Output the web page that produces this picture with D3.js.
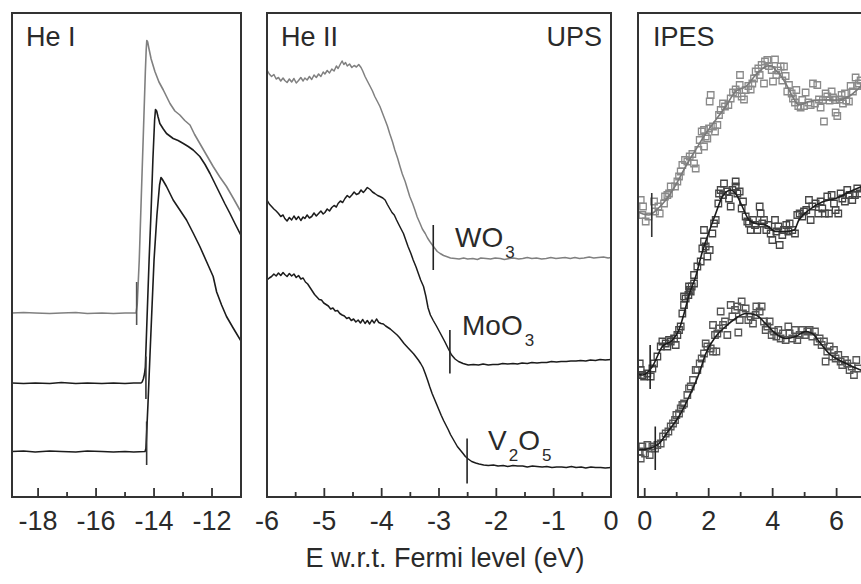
<!DOCTYPE html>
<html><head><meta charset="utf-8">
<script src="https://cdn.jsdelivr.net/npm/d3@7"></script>
<style>
body{margin:0;background:#fff}
svg{display:block}
text{font-family:"Liberation Sans",Arial,Helvetica,sans-serif;fill:#2a2a2a}
</style>
</head><body>
<svg id="chart" width="861" height="584"></svg>
<script>
// ---------------- DATA ----------------
// He I (secondary electron cut-off), x = E (eV), y = intensity (a.u.)
const heI_WO3 = [[-18.9,36.8],[-18.5,36.9],[-18.1,36.8],[-17.6,36.7],[-17.2,36.8],[-16.7,36.9],[-16.3,36.7],[-15.8,36.8],[-15.4,36.7],[-15.0,36.8],[-14.62,36.8],[-14.58,38.5],[-14.51,47.4],[-14.44,60.0],[-14.37,72.4],[-14.30,85.0],[-14.27,89.5],[-14.25,91.3],[-14.22,91.0],[-14.18,89.8],[-14.10,87.6],[-13.97,85.1],[-13.83,83.0],[-13.68,81.4],[-13.45,78.7],[-13.28,77.2],[-13.11,76.4],[-12.94,75.3],[-12.76,74.4],[-12.60,72.5],[-12.42,70.7],[-12.19,68.4],[-11.96,66.1],[-11.73,64.0],[-11.50,62.1],[-11.27,59.8],[-11.0,57.0]];
const heI_MoO3 = [[-18.9,22.8],[-18.5,22.7],[-18.1,22.8],[-17.6,22.7],[-17.2,22.9],[-16.7,22.7],[-16.3,22.8],[-15.8,22.7],[-15.4,22.8],[-15.0,22.7],[-14.7,22.8],[-14.45,22.8],[-14.41,23.0],[-14.37,23.6],[-14.33,24.6],[-14.30,26.0],[-14.24,36.0],[-14.17,47.4],[-14.10,57.5],[-14.04,67.4],[-13.98,75.4],[-13.95,77.5],[-13.91,77.2],[-13.86,76.0],[-13.80,74.7],[-13.68,73.6],[-13.57,72.7],[-13.34,71.7],[-13.17,71.3],[-12.99,70.7],[-12.82,70.1],[-12.65,69.4],[-12.42,68.1],[-12.24,66.5],[-12.07,64.7],[-11.90,62.7],[-11.73,60.7],[-11.56,58.7],[-11.38,56.7],[-11.21,54.7],[-11.0,52.3]];
const heI_V2O5 = [[-18.9,9.1],[-18.5,9.2],[-18.1,9.0],[-17.6,9.2],[-17.2,9.1],[-16.7,9.0],[-16.3,9.2],[-15.8,9.1],[-15.4,9.0],[-15.0,9.1],[-14.7,9.0],[-14.31,9.1],[-14.28,9.7],[-14.21,18.5],[-14.14,28.4],[-14.07,38.0],[-14.00,47.4],[-13.90,56.4],[-13.81,62.4],[-13.76,63.9],[-13.72,63.6],[-13.66,63.0],[-13.57,62.1],[-13.34,59.4],[-13.11,57.4],[-12.88,55.4],[-12.65,52.8],[-12.42,50.1],[-12.19,47.1],[-11.96,44.1],[-11.84,41.0],[-11.67,38.4],[-11.50,36.1],[-11.27,33.8],[-11.0,31.2]];

// He II (valence band)
const ups_WO3 = [[-6.00,85.4],[-5.96,84.6],[-5.92,84.1],[-5.88,84.5],[-5.84,83.6],[-5.80,83.9],[-5.76,83.2],[-5.72,83.8],[-5.69,83.3],[-5.65,82.9],[-5.61,83.6],[-5.57,83.0],[-5.53,83.7],[-5.49,82.8],[-5.45,83.3],[-5.41,83.9],[-5.37,83.2],[-5.34,83.8],[-5.30,83.4],[-5.26,84.1],[-5.22,83.5],[-5.18,84.4],[-5.14,83.9],[-5.10,84.6],[-5.06,84.1],[-5.02,85.0],[-4.99,84.6],[-4.95,85.3],[-4.91,84.8],[-4.87,85.6],[-4.83,85.2],[-4.79,86.2],[-4.76,85.7],[-4.72,86.6],[-4.69,87.2],[-4.66,86.5],[-4.63,86.9],[-4.60,86.2],[-4.56,86.6],[-4.52,85.9],[-4.48,86.3],[-4.44,86.0],[-4.40,86.5],[-4.36,85.9],[-4.33,85.2],[-4.29,84.1],[-4.25,83.2],[-4.20,82.1],[-4.16,81.2],[-4.12,80.1],[-4.07,79.0],[-4.03,78.1],[-3.98,76.6],[-3.94,75.4],[-3.90,74.2],[-3.86,72.7],[-3.81,71.0],[-3.77,69.4],[-3.72,67.7],[-3.68,66.1],[-3.64,64.6],[-3.59,63.1],[-3.55,61.6],[-3.51,60.1],[-3.46,58.7],[-3.42,57.4],[-3.38,56.0],[-3.33,54.7],[-3.29,53.6],[-3.24,52.7],[-3.20,51.8],[-3.16,51.1],[-3.11,50.3],[-3.07,49.7],[-3.03,49.1],[-2.98,48.7],[-2.92,48.3],[-2.87,48.1],[-2.80,47.8],[-2.72,47.7],[-2.65,47.6],[-2.57,47.8],[-2.50,47.6],[-2.41,47.7],[-2.33,47.5],[-2.27,47.8],[-2.18,47.7],[-2.10,47.6],[-2.02,47.8],[-1.93,47.7],[-1.86,47.5],[-1.77,47.7],[-1.70,47.8],[-1.61,47.6],[-1.54,47.7],[-1.46,47.9],[-1.38,47.7],[-1.30,47.8],[-1.21,47.6],[-1.13,47.7],[-1.05,47.9],[-0.96,47.7],[-0.88,47.8],[-0.80,47.9],[-0.71,47.7],[-0.63,47.9],[-0.55,47.7],[-0.47,47.8],[-0.38,48.0],[-0.30,47.8],[-0.22,47.9],[-0.13,48.0],[-0.05,47.8],[0,47.9]];
const ups_MoO3 = [[-6.00,59.4],[-5.96,58.6],[-5.92,58.1],[-5.88,57.6],[-5.84,57.2],[-5.80,56.7],[-5.76,56.1],[-5.72,56.4],[-5.69,55.7],[-5.65,55.2],[-5.61,55.9],[-5.57,55.4],[-5.53,56.2],[-5.49,55.5],[-5.45,56.1],[-5.41,55.3],[-5.37,56.0],[-5.34,55.7],[-5.30,56.4],[-5.26,55.8],[-5.22,56.1],[-5.18,56.8],[-5.14,56.2],[-5.10,56.7],[-5.06,57.2],[-5.02,56.6],[-4.99,56.9],[-4.95,57.6],[-4.91,57.2],[-4.87,57.9],[-4.83,58.3],[-4.79,58.0],[-4.76,58.7],[-4.72,59.2],[-4.68,58.9],[-4.64,59.7],[-4.60,60.3],[-4.56,59.9],[-4.52,60.4],[-4.48,61.0],[-4.44,60.5],[-4.40,60.7],[-4.36,61.4],[-4.32,60.9],[-4.29,61.3],[-4.25,61.9],[-4.20,61.5],[-4.16,61.0],[-4.12,60.7],[-4.07,60.3],[-4.03,60.1],[-3.98,59.8],[-3.94,59.4],[-3.90,58.5],[-3.86,57.7],[-3.82,56.9],[-3.78,56.4],[-3.74,55.4],[-3.71,54.7],[-3.67,53.8],[-3.62,52.7],[-3.58,51.4],[-3.54,50.1],[-3.49,48.7],[-3.45,47.4],[-3.40,46.0],[-3.36,44.7],[-3.32,43.4],[-3.27,42.1],[-3.23,40.2],[-3.19,37.8],[-3.15,36.4],[-3.10,35.3],[-3.04,34.1],[-2.97,32.6],[-2.90,31.1],[-2.84,29.7],[-2.78,28.4],[-2.72,27.6],[-2.66,27.1],[-2.58,26.7],[-2.49,26.4],[-2.40,26.5],[-2.31,26.4],[-2.23,26.6],[-2.14,26.4],[-2.06,26.5],[-1.97,26.5],[-1.89,26.7],[-1.80,26.6],[-1.71,26.7],[-1.63,26.6],[-1.55,26.8],[-1.46,26.7],[-1.38,26.9],[-1.29,26.8],[-1.21,26.9],[-1.12,26.9],[-1.04,27.1],[-0.95,27.0],[-0.87,27.1],[-0.78,27.1],[-0.70,27.2],[-0.61,27.2],[-0.53,27.3],[-0.44,27.2],[-0.36,27.4],[-0.27,27.3],[-0.19,27.5],[-0.10,27.4],[0,27.5]];
const ups_V2O5 = [[-6.00,43.4],[-5.96,43.8],[-5.92,44.1],[-5.88,44.6],[-5.84,44.2],[-5.80,44.8],[-5.76,44.3],[-5.72,44.9],[-5.69,44.5],[-5.65,44.1],[-5.61,44.7],[-5.57,44.2],[-5.53,44.6],[-5.49,43.9],[-5.45,44.3],[-5.41,43.6],[-5.37,43.8],[-5.33,43.0],[-5.29,42.6],[-5.25,41.9],[-5.21,41.2],[-5.17,40.5],[-5.13,40.0],[-5.09,39.5],[-5.05,39.4],[-5.01,38.8],[-4.97,38.5],[-4.93,38.2],[-4.89,37.6],[-4.85,37.8],[-4.81,37.2],[-4.77,37.3],[-4.73,36.7],[-4.69,36.4],[-4.65,36.2],[-4.61,35.7],[-4.57,35.9],[-4.53,35.3],[-4.49,35.6],[-4.45,35.0],[-4.41,35.4],[-4.37,34.8],[-4.33,35.5],[-4.29,34.7],[-4.25,35.3],[-4.21,34.6],[-4.17,35.4],[-4.13,34.8],[-4.09,35.6],[-4.05,34.9],[-4.01,34.7],[-3.97,34.6],[-3.93,34.2],[-3.89,33.9],[-3.85,33.6],[-3.81,33.2],[-3.77,32.8],[-3.73,32.4],[-3.69,31.9],[-3.65,31.3],[-3.61,30.7],[-3.57,30.2],[-3.53,29.7],[-3.48,29.1],[-3.44,28.6],[-3.40,28.0],[-3.36,27.4],[-3.32,26.7],[-3.28,25.9],[-3.24,24.7],[-3.20,23.4],[-3.16,22.0],[-3.12,20.7],[-3.08,19.6],[-3.04,18.5],[-3.00,17.4],[-2.96,16.3],[-2.92,15.3],[-2.88,14.4],[-2.84,13.5],[-2.80,12.5],[-2.76,11.7],[-2.72,10.9],[-2.68,10.1],[-2.63,9.4],[-2.58,8.7],[-2.54,8.1],[-2.49,7.6],[-2.43,7.1],[-2.36,6.8],[-2.30,6.6],[-2.22,6.4],[-2.14,6.3],[-2.05,6.4],[-1.97,6.2],[-1.88,6.3],[-1.80,6.1],[-1.71,6.3],[-1.63,6.2],[-1.54,6.2],[-1.46,6.0],[-1.37,6.2],[-1.29,6.1],[-1.20,6.0],[-1.12,6.1],[-1.03,5.9],[-0.95,6.0],[-0.86,6.0],[-0.78,5.9],[-0.69,6.1],[-0.61,5.9],[-0.52,6.0],[-0.44,5.8],[-0.35,6.0],[-0.27,5.9],[-0.18,5.9],[-0.10,5.8],[0,5.9]];

// IPES measured points
const ipes_WO3_pts = [[-0.125,59.4],[-0.052,58.1],[-0.073,56.4],[0.031,55.1],[0.115,56.1],[0.292,59.1],[0.323,57.1],[0.427,58.1],[0.469,56.7],[0.604,58.7],[0.635,60.1],[0.708,60.4],[0.760,60.7],[0.813,62.1],[0.948,62.1],[1.021,63.1],[1.073,64.1],[1.125,65.1],[1.177,66.4],[1.260,67.4],[1.333,67.1],[1.406,68.1],[1.490,68.6],[1.542,66.7],[1.594,65.7],[1.677,69.4],[1.719,71.4],[1.781,73.1],[1.854,73.4],[1.906,72.1],[1.958,71.7],[1.854,70.1],[2.010,73.7],[2.135,74.1],[2.198,73.1],[2.271,74.4],[2.323,76.4],[2.375,77.4],[2.448,78.7],[2.510,78.1],[2.615,78.4],[2.688,79.7],[2.760,80.9],[2.844,81.5],[2.896,80.7],[2.969,82.4],[3.031,80.1],[3.104,79.5],[3.156,81.4],[3.240,82.2],[3.313,81.5],[3.365,82.7],[3.417,83.7],[3.469,85.1],[3.552,85.7],[3.594,84.4],[3.656,86.4],[3.729,82.7],[3.760,87.1],[3.833,87.4],[3.885,86.2],[3.969,85.4],[4.010,83.1],[4.073,87.5],[4.115,84.4],[4.177,85.3],[4.250,86.1],[4.302,83.3],[4.354,86.1],[4.406,84.2],[4.458,81.1],[4.510,82.4],[4.594,80.7],[4.635,79.7],[4.698,78.9],[4.740,81.4],[4.802,78.2],[4.875,77.9],[4.927,79.4],[4.979,78.2],[5.031,80.9],[5.115,78.9],[5.188,78.4],[5.260,82.7],[5.323,78.7],[5.396,82.4],[5.448,79.5],[5.500,77.9],[5.573,79.4],[5.604,75.1],[5.656,80.7],[5.708,80.1],[5.781,79.3],[5.844,81.1],[5.885,79.9],[5.948,79.4],[5.969,76.9],[6.021,76.2],[6.094,79.5],[6.156,80.4],[6.198,78.7],[6.260,80.7],[6.302,79.3],[6.385,79.1],[6.438,82.2],[6.510,81.1],[6.594,83.9],[6.646,82.2],[6.698,82.7],[6.750,83.3],[2.063,80.4],[2.031,79.1],[2.979,84.4]];
const ipes_MoO3_pts = [[-0.156,26.7],[-0.125,25.4],[-0.073,24.4],[-0.021,24.1],[0.083,24.7],[0.188,24.1],[0.240,25.7],[0.292,26.7],[0.396,28.1],[0.500,30.1],[0.552,31.1],[0.656,30.7],[0.708,30.1],[0.760,31.4],[0.813,31.1],[0.917,31.7],[0.969,30.4],[1.021,32.4],[1.073,33.4],[1.125,34.1],[1.177,36.7],[1.229,38.4],[1.281,39.7],[1.365,40.4],[1.406,41.4],[1.469,42.1],[1.542,42.7],[1.229,40.1],[1.385,42.1],[1.438,41.1],[1.542,44.4],[1.646,46.1],[1.750,47.1],[1.802,49.7],[1.854,51.1],[1.906,50.1],[1.958,48.1],[2.031,49.4],[2.115,52.7],[2.167,54.7],[2.219,55.4],[1.854,53.4],[2.302,58.7],[2.323,60.7],[2.375,61.4],[2.448,60.4],[2.479,62.7],[2.583,61.1],[2.635,59.7],[2.688,58.1],[2.740,61.4],[2.844,63.1],[2.844,62.1],[2.896,60.7],[2.969,61.1],[3.031,57.7],[3.073,59.1],[3.156,56.1],[3.208,55.1],[3.260,54.7],[3.313,53.4],[3.385,55.4],[3.448,54.4],[3.521,53.4],[3.594,58.1],[3.625,56.7],[3.677,54.7],[3.729,55.4],[3.802,53.4],[3.865,54.4],[3.938,52.7],[3.990,51.4],[4.073,55.4],[4.115,53.1],[4.177,54.1],[4.219,50.4],[4.302,52.4],[4.354,53.4],[4.427,54.4],[4.490,53.1],[4.531,54.7],[4.615,53.4],[4.698,52.7],[4.771,56.4],[4.844,56.7],[4.927,56.1],[4.979,57.1],[5.052,57.4],[5.135,59.4],[5.188,55.4],[5.240,58.1],[5.344,58.7],[5.427,56.7],[5.500,59.1],[5.552,57.7],[5.635,56.7],[5.708,60.1],[5.760,56.7],[5.844,60.4],[5.917,58.7],[5.969,57.4],[6.052,56.7],[6.125,60.7],[6.177,59.7],[6.260,59.1],[6.333,61.4],[6.406,60.4],[6.490,59.4],[6.573,60.4],[6.646,61.7],[6.719,60.7]];
const ipes_V2O5_pts = [[-0.156,9.1],[-0.125,7.7],[-0.073,10.1],[0.010,8.7],[0.083,10.4],[0.156,8.4],[0.240,10.1],[0.323,9.7],[0.396,10.4],[0.500,10.7],[0.573,12.1],[0.656,12.7],[0.740,13.1],[0.813,14.1],[0.885,14.7],[0.948,15.4],[0.990,16.4],[1.073,16.7],[1.125,17.7],[1.177,18.4],[1.229,18.7],[1.333,20.4],[1.385,21.7],[1.438,22.1],[1.510,23.4],[1.594,25.4],[1.646,25.4],[1.719,26.7],[1.781,27.7],[1.854,28.7],[1.906,30.7],[1.958,30.1],[2.063,29.7],[2.135,29.1],[2.240,29.1],[2.135,34.4],[2.198,32.4],[2.271,32.7],[2.323,33.7],[2.375,37.1],[2.448,34.4],[2.510,35.1],[2.583,32.4],[2.688,38.4],[2.740,36.1],[2.823,37.4],[2.896,38.1],[2.927,32.9],[2.969,35.4],[3.031,39.1],[3.073,36.7],[3.156,37.7],[3.240,35.4],[3.313,36.1],[3.385,34.7],[3.469,36.4],[3.490,38.1],[3.594,37.1],[3.656,38.1],[3.729,35.1],[3.781,33.4],[3.833,34.1],[3.906,35.1],[3.969,32.4],[4.042,33.1],[4.115,32.1],[4.177,33.4],[4.250,31.7],[4.323,32.7],[4.406,31.4],[4.490,34.1],[4.531,32.7],[4.615,31.7],[4.698,33.4],[4.771,31.4],[4.844,32.4],[4.927,33.4],[5.010,32.4],[5.083,33.1],[5.156,33.4],[5.240,32.1],[5.323,33.1],[5.396,31.1],[5.469,31.7],[5.531,30.4],[5.604,31.1],[5.656,27.1],[5.708,29.1],[5.781,30.1],[5.865,28.1],[5.917,29.4],[5.969,27.7],[6.052,28.4],[6.125,27.1],[6.177,26.4],[6.260,27.4],[6.333,26.7],[6.406,25.4],[6.469,26.1],[6.542,24.4],[6.615,27.4],[6.677,25.7]];
// IPES smoothed fits
const ipes_WO3_fit = [[-0.2,57.0],[-0.05,56.6],[0.13,56.4],[0.4,57.6],[0.66,59.4],[0.97,62.4],[1.28,66.1],[1.59,69.4],[1.91,72.7],[2.22,75.4],[2.53,78.1],[2.84,81.1],[3.16,82.1],[3.47,84.4],[3.78,86.1],[3.95,86.3],[4.09,85.4],[4.25,84.3],[4.41,82.7],[4.62,80.1],[4.82,78.4],[5.13,79.1],[5.45,79.4],[5.77,79.4],[6.07,79.4],[6.38,80.1],[6.75,82.1],[6.95,83.4]];
const ipes_MoO3_fit = [[-0.2,24.5],[-0.07,24.4],[0.24,26.1],[0.55,30.1],[0.87,31.4],[1.07,33.4],[1.23,36.7],[1.39,40.5],[1.59,44.0],[1.80,49.0],[1.96,52.1],[2.22,56.7],[2.43,60.1],[2.69,61.4],[2.90,60.1],[3.05,58.1],[3.26,55.4],[3.47,54.7],[3.78,54.4],[4.09,53.1],[4.41,53.1],[4.67,53.4],[4.82,55.4],[5.14,57.4],[5.55,59.0],[5.97,59.7],[6.39,61.0],[6.75,62.0],[6.95,62.5]];
const ipes_V2O5_fit = [[-0.2,9.4],[0.14,9.7],[0.45,10.7],[0.76,13.4],[1.07,16.1],[1.39,20.1],[1.70,24.7],[1.91,28.7],[2.22,32.1],[2.53,34.1],[2.84,35.7],[3.16,36.7],[3.47,36.4],[3.78,34.7],[4.09,32.7],[4.41,31.7],[4.72,32.1],[5.03,33.1],[5.24,32.7],[5.45,31.1],[5.76,28.7],[6.07,27.4],[6.39,26.4],[6.75,25.4],[6.95,25.0]];

// onset markers: [x, low, high]
const heI_marks = [[-14.60,34.4,43.0],[-14.28,19.6,28.1],[-14.255,6.4,15.1]];
const ups_marks = [[-3.10,45.4,54.4],[-2.81,24.7,33.4],[-2.51,2.7,11.7]];
const ipes_marks = [[0.22,52.0,60.8],[0.17,21.6,30.4],[0.33,5.4,14.1]];

// axis ticks
const heI_major = [-18,-16,-14,-12], heI_minor = [-17,-15,-13];
const ups_major = [-6,-5,-4,-3,-2,-1,0], ups_minor = [-5.5,-4.5,-3.5,-2.5,-1.5,-0.5];
const ipes_major = [0,2,4,6], ipes_minor = [1,3,5,7];
const panelTitles = ["He I","He II","IPES"];
const axisTitle = "E w.r.t. Fermi level (eV)";

// ---------------- DRAW ----------------
const svg = d3.select("#chart");
const yTop = 13, yBot = 497;
const yS = d3.scaleLinear().domain([0,100]).range([yBot, yBot-500]);
const GRAY = "#808080", BLACK = "#1c1c1c";

const panels = [
  {x0:12, x1:241, dom:[-18.9,-11], major:heI_major, minor:heI_minor},
  {x0:267, x1:611, dom:[-6,0], major:ups_major, minor:ups_minor},
  {x0:638, x1:867, dom:[-0.21,6.95], major:ipes_major, minor:ipes_minor}
];
panels.forEach((p,i)=>{
  p.x = d3.scaleLinear().domain(p.dom).range([p.x0,p.x1]);
  svg.append("clipPath").attr("id","clip"+i).append("rect")
    .attr("x",p.x0).attr("y",yTop).attr("width",p.x1-p.x0).attr("height",yBot-yTop);
  p.g = svg.append("g").attr("clip-path",`url(#clip${i})`);
});

function drawLine(p, data, color, w, curve){
  const line = d3.line().x(d=>p.x(d[0])).y(d=>yS(d[1])).curve(curve||d3.curveLinear);
  p.g.append("path").datum(data).attr("d",line).attr("fill","none")
    .attr("stroke",color).attr("stroke-width",w).attr("stroke-linejoin","round");
}
function drawMarks(p, marks, colors){
  p.g.selectAll(null).data(marks).enter().append("line")
    .attr("x1",d=>p.x(d[0])).attr("x2",d=>p.x(d[0]))
    .attr("y1",d=>yS(d[1])).attr("y2",d=>yS(d[2]))
    .attr("stroke",(d,i)=>colors[i]).attr("stroke-width",1.6);
}

// He I
const P1 = panels[0];
drawLine(P1, heI_WO3, GRAY, 1.6);
drawLine(P1, heI_MoO3, BLACK, 1.6);
drawLine(P1, heI_V2O5, BLACK, 1.6);
drawMarks(P1, heI_marks, ["#555","#333","#333"]);

// He II
const P2 = panels[1];
drawLine(P2, ups_WO3, GRAY, 1.5);
drawLine(P2, ups_MoO3, BLACK, 1.5);
drawLine(P2, ups_V2O5, BLACK, 1.5);
drawMarks(P2, ups_marks, ["#222","#222","#222"]);

// IPES
const P3 = panels[2];
const sq = d3.symbol().type(d3.symbolSquare).size(42);
[[ipes_WO3_pts,"#8a8a8a"],[ipes_MoO3_pts,"#454545"],[ipes_V2O5_pts,"#555"]].forEach(([pts,c])=>{
  P3.g.selectAll(null).data(pts).enter().append("path").attr("d",sq)
    .attr("transform",d=>`translate(${P3.x(d[0])},${yS(d[1])})`)
    .attr("fill","none").attr("stroke",c).attr("stroke-width",1.3);
});
drawLine(P3, ipes_WO3_fit, "#7a7a7a", 1.6, d3.curveMonotoneX);
drawLine(P3, ipes_MoO3_fit, BLACK, 1.6, d3.curveMonotoneX);
drawLine(P3, ipes_V2O5_fit, BLACK, 1.6, d3.curveMonotoneX);
drawMarks(P3, ipes_marks, ["#333","#222","#222"]);

// frames, ticks, labels
panels.forEach(p=>{
  svg.append("rect").attr("x",p.x0).attr("y",yTop).attr("width",p.x1-p.x0).attr("height",yBot-yTop)
    .attr("fill","none").attr("stroke","#333").attr("stroke-width",2);
  const ax = svg.append("g").attr("transform",`translate(0,${yBot})`);
  ax.selectAll(null).data(p.major).enter().append("line")
    .attr("x1",d=>p.x(d)).attr("x2",d=>p.x(d)).attr("y1",0).attr("y2",-9)
    .attr("stroke","#333").attr("stroke-width",1.8);
  ax.selectAll(null).data(p.minor).enter().append("line")
    .attr("x1",d=>p.x(d)).attr("x2",d=>p.x(d)).attr("y1",0).attr("y2",-5)
    .attr("stroke","#333").attr("stroke-width",1.8);
  ax.selectAll(null).data(p.major).enter().append("text")
    .attr("x",d=>p.x(d)).attr("y",33).attr("text-anchor","middle")
    .attr("font-size",27).text(d=>String(d));
});

// panel titles
svg.append("text").attr("x",26).attr("y",46).attr("font-size",27).text(panelTitles[0]);
svg.append("text").attr("x",281).attr("y",46).attr("font-size",27).text(panelTitles[1]);
svg.append("text").attr("x",602).attr("y",46).attr("font-size",27).attr("text-anchor","end").text("UPS");
svg.append("text").attr("x",653).attr("y",46).attr("font-size",27).text(panelTitles[2]);

// material labels with subscripts
function formula(x, yb, parts){
  const t = svg.append("text").attr("x",x).attr("y",yb).attr("font-size",28);
  let sub = false;
  parts.forEach(s=>{
    const isSub = /^\d$/.test(s);
    const ts = t.append("tspan").text(s);
    if(isSub && !sub){ ts.attr("font-size",17).attr("dy",11).attr("dx",2); sub = true; }
    else if(!isSub && sub){ ts.attr("dy",-11); sub = false; }
  });
}
formula(455, 247, ["WO","3"]);
formula(462, 335, ["MoO","3"]);
formula(488, 450, ["V","2","O","5"]);

// axis title
svg.append("text").attr("x",445).attr("y",567).attr("text-anchor","middle").attr("font-size",27).text(axisTitle);
</script>
</body></html>
